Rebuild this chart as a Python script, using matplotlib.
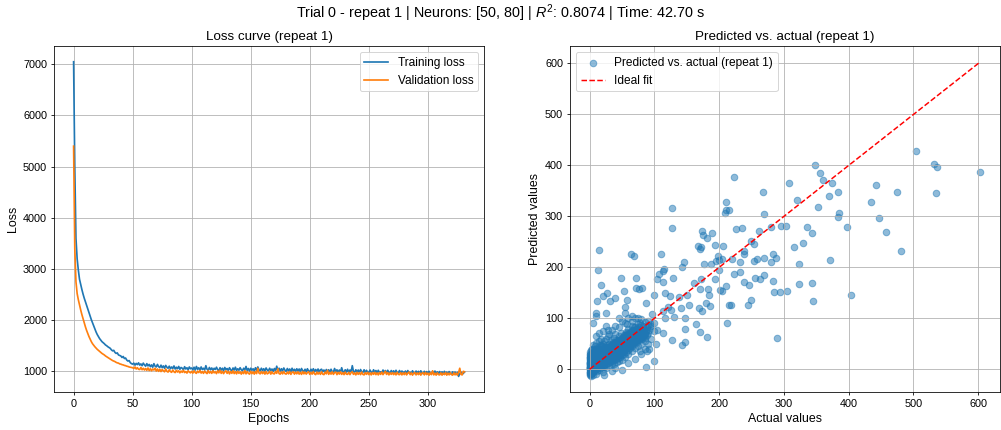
import numpy as np
import matplotlib
matplotlib.use("Agg")
import matplotlib.pyplot as plt

plt.rcParams['font.family'] = ['Liberation Sans', 'DejaVu Sans']
plt.rcParams['mathtext.fontset'] = 'custom'
plt.rcParams['mathtext.rm'] = 'Liberation Sans'
plt.rcParams['mathtext.it'] = 'Liberation Sans:italic'
plt.rcParams['xtick.labelsize'] = 11
plt.rcParams['ytick.labelsize'] = 11
plt.rcParams['axes.labelsize'] = 12.5
plt.rcParams['axes.titlesize'] = 13.5
plt.rcParams['legend.fontsize'] = 12

# loss per epoch
train_loss = [
    7050, 5000, 3600, 3200, 2980, 2800, 2700, 2600, 2510, 2430,
    2360, 2290, 2220, 2150, 2080, 2010, 1950, 1890, 1830, 1770,
    1720, 1680, 1640, 1610, 1580, 1560, 1540, 1515, 1500, 1480,
    1465, 1450, 1420, 1400, 1410, 1370, 1350, 1360, 1320, 1310,
    1300, 1270, 1290, 1250, 1260, 1220, 1200, 1210, 1170, 1150,
    1140, 1160, 1120, 1155, 1130, 1165, 1120, 1145, 1110, 1160,
    1125, 1100, 1150, 1105, 1135, 1090, 1125, 1080, 1150, 1100,
    1085, 1135, 1090, 1075, 1120, 1070, 1105, 1060, 1115, 1080,
    1060, 1100, 1050, 1085, 1055, 1105, 1045, 1080, 1050, 1095,
    1040, 1075, 1060, 1030, 1090, 1045, 1070, 1030, 1085, 1050,
    1065, 1030, 1080, 1025, 1095, 1040, 1070, 1020, 1085, 1035,
    1060, 1025, 1110, 1040, 1020, 1075, 1030, 1065, 1015, 1060,
    1035, 1080, 1030, 1015, 1070, 1025, 1060, 1010, 1075, 1035,
    1055, 1015, 1070, 1030, 1010, 1065, 1025, 1080, 1015, 1050,
    1020, 1070, 1030, 1010, 1060, 1025, 1095, 1015, 1055, 1005,
    1060, 1020, 1050, 1005, 1070, 1020, 1085, 1030, 1010, 1060,
    1015, 1050, 1005, 1065, 1025, 1010, 1060, 1015, 1045, 1000,
    1055, 1010, 1100, 1015, 1060, 1005, 1050, 1010, 1065, 1020,
    1000, 1055, 1010, 1045, 995, 1060, 1005, 1040, 1000, 1050,
    1005, 1045, 995, 1055, 1010, 1000, 1040, 990, 1050, 1005,
    995, 1040, 1000, 1050, 990, 1035, 995, 1045, 985, 1030,
    1040, 990, 1025, 975, 1035, 985, 1030, 980, 1040, 995,
    985, 1055, 990, 1030, 980, 1025, 985, 1070, 995, 980,
    1030, 985, 1040, 975, 1025, 990, 1110, 995, 980, 1030,
    985, 1025, 975, 1035, 990, 980, 1030, 970, 1020, 985,
    975, 1025, 985, 970, 1030, 980, 1015, 970, 1020, 975,
    990, 970, 1025, 975, 1015, 965, 1020, 980, 970, 1015,
    975, 1010, 965, 1020, 975, 970, 1015, 965, 1005, 985,
    970, 1005, 960, 1015, 970, 980, 960, 1010, 970, 955,
    1005, 965, 1000, 960, 1010, 965, 955, 1000, 960, 995,
    955, 1000, 965, 950, 995, 960, 1005, 955, 990, 950,
    995, 955, 990, 945, 1000, 955, 985, 945, 995, 960,
    950, 990, 945, 985, 940, 980, 900, 950, 985, 940,
    960, 985,
]
val_loss = [
    5400, 3400, 2750, 2520, 2400, 2300, 2200, 2110, 2030, 1950,
    1870, 1800, 1740, 1680, 1630, 1580, 1540, 1510, 1480, 1455,
    1430, 1410, 1390, 1370, 1350, 1335, 1320, 1300, 1285, 1270,
    1255, 1240, 1225, 1210, 1200, 1190, 1175, 1165, 1160, 1145,
    1140, 1130, 1125, 1115, 1110, 1100, 1095, 1085, 1080, 1075,
    1070, 1055, 1085, 1045, 1070, 1040, 1035, 1075, 1030, 1060,
    1025, 1055, 1020, 1065, 1015, 1050, 1010, 1045, 1025, 1060,
    1005, 1045, 1000, 1040, 995, 1035, 1010, 990, 1045, 1000,
    985, 1030, 995, 980, 1025, 990, 975, 1020, 985, 1010,
    970, 1005, 980, 1020, 975, 995, 965, 1010, 985, 970,
    1000, 965, 1010, 975, 960, 1005, 975, 1015, 965, 995,
    960, 1005, 975, 955, 1015, 965, 995, 960, 1010, 970,
    990, 955, 1010, 970, 1020, 960, 1000, 955, 990, 1010,
    960, 1000, 950, 995, 960, 1010, 955, 995, 950, 1000,
    960, 990, 945, 990, 955, 1015, 950, 995, 960, 945,
    1000, 955, 990, 945, 995, 955, 1060, 965, 950, 995,
    955, 990, 945, 995, 950, 965, 1000, 945, 990, 955,
    950, 995, 960, 1050, 955, 945, 990, 950, 995, 955,
    945, 985, 950, 995, 940, 980, 990, 945, 985, 950,
    990, 945, 980, 940, 995, 950, 985, 945, 975, 990,
    940, 980, 945, 995, 950, 935, 985, 945, 980, 940,
    990, 945, 935, 985, 950, 1020, 940, 980, 945, 990,
    940, 975, 985, 935, 980, 945, 990, 940, 975, 935,
    985, 945, 940, 980, 935, 975, 990, 940, 970, 930,
    980, 940, 975, 935, 985, 940, 930, 975, 940, 980,
    935, 970, 930, 975, 940, 980, 935, 970, 930, 975,
    940, 985, 935, 970, 1000, 940, 975, 930, 970, 940,
    975, 935, 970, 930, 980, 940, 935, 975, 930, 970,
    935, 975, 930, 965, 985, 935, 970, 925, 965, 975,
    930, 970, 935, 975, 925, 965, 970, 930, 980, 935,
    965, 925, 970, 935, 1010, 930, 965, 925, 970, 935,
    930, 970, 925, 965, 935, 975, 925, 965, 930, 970,
    935, 925, 970, 930, 965, 925, 975, 1060, 940, 930,
    1000, 990,
]

# test set: actual vs predicted, scattered points
actual = [
    504.6, 531, 536.5, 603.4, 535, 480.5, 475.3, 457.3, 447, 442.4,
    434.2, 404.3, 397.6, 384.3, 384, 384, 375, 369, 361, 356,
    348, 352, 371.4, 343.6, 336, 330, 316, 323.6, 323.6, 304.5,
    343.6, 344.7, 320, 308.6, 303, 296, 294, 285, 289, 288,
    283, 280, 283, 280, 268.5, 267, 270, 268.5, 263.4, 261,
    258.5, 256, 253.5, 248.5, 253.5, 245.4, 249.5, 244.3, 239, 237.7,
    238.7, 232.5, 232.5, 236, 226.3, 223, 223.6, 220.5, 218, 214.5,
    212.4, 210, 210, 210.4, 214.5, 209.8, 205.2, 206, 205, 200.7,
    198, 200, 200, 194, 193, 195, 189.6, 188, 186.6, 184,
    183, 181, 180, 181, 177, 173, 171.8, 169.8, 175, 166.7,
    170.8, 169, 173, 172.3, 164, 160.5, 170, 153, 151, 145,
    142.5, 140.4, 147, 148, 148, 143, 138.4, 128, 127.6, 128.6,
    126.5, 123.5, 125, 121.4, 115, 114, 109.6, 113, 115.7, 113.7,
    116, 129.6, 107.5, 104, 100, 96.7, 104.4, 113.7, 102, 99,
    87, 86.4, 80.8, 77, 72, 71, 68.4, 63.8, 58, 52.5,
    48.4, 55, 40, 32, 25.7, 18, 20, 14, 12.9, 11.8,
    10.3, 9.8, 5, 23, 26.7,
    0, 0, 0, 0, 0, 0, 0, 0, 0, 1, 1, 1, 1, 1, 1, 1, 1, 2, 2, 2, 2, 2, 2,
    3, 3, 3, 3, 3, 3, 3, 0, 0, 1, 2, 3,
    4, 4, 4, 4, 5, 5, 5, 5, 5, 6, 6, 6, 6, 7, 7, 7, 7, 8, 8, 8, 8, 8,
    9, 9, 9, 9, 10, 10, 10, 10, 4, 6, 8, 10,
    11, 11, 11, 11, 12, 12, 12, 12, 13, 13, 13, 13, 14, 14, 14, 14,
    15, 15, 15, 15, 16, 16, 16, 16, 17, 17, 17, 17, 18, 18, 18,
    19, 19, 19, 19, 20, 20, 20, 20, 12, 15, 18, 20,
    21, 21, 21, 22, 22, 22, 23, 23, 23, 24, 24, 24, 25, 25, 25,
    26, 26, 26, 27, 27, 27, 28, 28, 28, 29, 29, 29, 30, 30, 30,
    31, 31, 32, 32, 32, 33, 33, 33, 34, 34, 35, 35, 35, 22, 26, 30, 34,
    36, 36, 36, 37, 37, 38, 38, 38, 39, 39, 39, 40, 40, 40, 41, 41, 41,
    42, 42, 42, 43, 43, 44, 44, 44, 45, 45, 45, 46, 46, 47, 47, 47,
    48, 48, 48, 49, 49, 50, 50, 50, 38, 42, 46, 50,
    51, 51, 52, 52, 53, 53, 53, 54, 54, 55, 55, 56, 56, 56, 57, 57,
    58, 58, 59, 59, 60, 60, 60, 61, 61, 62, 62, 63, 63, 64, 64,
    65, 65, 65, 66, 66, 67, 67, 68, 68, 69, 69, 70, 70, 55, 60, 65, 70,
    71, 71, 72, 72, 73, 73, 74, 74, 75, 75, 76, 76, 77, 77, 78, 78,
    79, 79, 80, 80, 81, 81, 82, 82, 83, 84, 84, 85, 85, 86, 87, 88,
    89, 90, 75, 80, 85,
    45, 50, 55, 40, 35, 30, 60, 65, 70, 25, 20, 15, 10, 75, 80, 90,
    95, 100, 95, 100, 92, 60, 70, 80, 88, 50, 40, 35, 10, 5, 2, 20,
    65, 58, 45, 28, 55,
]
predicted = [
    428.4, 402, 396.5, 386.7, 345.7, 231.8, 348.3, 268.9, 296.9, 361.3,
    327.5, 146.5, 280, 306, 299, 347.6, 364.6, 340.5, 371.7, 385.4,
    400.4, 317.7, 214.2, 268.2, 280, 248.7, 240, 207, 168, 153,
    168.6, 134, 332.7, 364.6, 281, 281, 151, 152.3, 61, 218.7,
    226.6, 209.6, 173.8, 280, 305.3, 347.6, 218.7, 185.5, 177, 270.8,
    216, 179.7, 212.2, 252.6, 245.4, 166, 136.7, 126.3, 171.2, 225.3,
    231.8, 211, 190, 277.3, 274.7, 378, 187.5, 216, 127, 127,
    90.5, 162.8, 327.5, 312, 313, 306, 154.3, 241.5, 216, 155.6,
    222.7, 213.5, 195.3, 177, 243.5, 211.6, 267, 205.7, 123.7, 146.5,
    157, 258.5, 130, 62.5, 207, 270.8, 239, 235.7, 264, 242.8,
    157.5, 120.4, 114, 177, 88.5, 169, 73, 127, 146.5, 209.6,
    200.5, 121, 101, 78.8, 53.4, 46.9, 141.3, 315.8, 276.7, 178.4,
    56.6, 144.5, 116, 123, 196, 192, 225.3, 170.6, 149.7, 115,
    101, 102, 186, 177, 145, 109, 77.5, 71, 49.5, 15.6,
    5.2, 130, 160, 157.5, 160, 178.4, 223, 227, 136.7, 153,
    178.4, 123, 140.6, 134, 110.7, 164.7, 144.5, 233.7, 194.7, 134.8,
    110.7, 104.2, 91, -10.4, 149.7,
    -10, -5, 0, 3, 8, 12, 18, 25, -12, -8, 2, 6, 10, 15, 20, 28, 33, -3, 4, 9, 14, 22, 38,
    -6, 1, 7, 12, 17, 26, 31, 5, 15, -2, 0, 20,
    2, 10, 18, 30, -4, 5, 12, 22, 40, 3, 14, 25, 48, 0, 8, 16, 30, 5, 12, 20, 35, 45,
    2, 10, 24, 38, 6, 15, 28, 52, -8, -6, -2, 0,
    4, 12, 20, 32, 8, 18, 26, 42, 2, 14, 22, 36, 10, 20, 30, 55,
    6, 16, 25, 40, 12, 22, 34, 48, 8, 18, 28, 60, 14, 24, 38,
    10, 20, 32, 45, 16, 26, 36, 50, -4, -2, 2, 6,
    12, 24, 40, 18, 30, 55, 8, 20, 34, 14, 26, 44, 20, 32, 60,
    10, 24, 38, 16, 30, 48, 22, 36, 65, 12, 26, 42, 18, 32, 50,
    24, 38, 14, 28, 46, 20, 34, 58, 26, 40, 16, 30, 48, 5, 2, 8, 10,
    22, 36, 54, 28, 42, 18, 32, 62, 24, 38, 50, 30, 44, 70, 20, 36, 52,
    26, 40, 58, 32, 46, 22, 38, 56, 28, 42, 66, 34, 50, 24, 40, 58,
    30, 46, 72, 36, 52, 28, 44, 62, 10, 14, 16, 18,
    34, 50, 40, 58, 30, 46, 68, 38, 54, 44, 62, 34, 50, 74, 42, 58,
    48, 66, 38, 54, 46, 62, 80, 52, 68, 42, 58, 50, 66, 56, 74,
    46, 62, 85, 54, 70, 60, 78, 50, 66, 58, 74, 64, 82, 25, 30, 36, 42,
    56, 72, 62, 80, 54, 70, 60, 78, 66, 88, 58, 74, 64, 82, 70, 90,
    62, 78, 68, 86, 60, 74, 66, 84, 72, 64, 80, 70, 92, 62, 76, 68,
    80, 72, 45, 50, 55,
    100, 95, 110, 85, 78, 70, 100, 105, 100, 85, 75, 72, 65, 100, 98, 95,
    88, 90, 60, 75, 40, 12, 20, 30, 35, -2, 2, -4, -10, -12, -14, -6,
    95, 88, 82, 78, 90,
]

# more points inside the dense band near the origin
cluster_actual = [
    0, 0, 0, 0, 1, 1, 1, 1, 2, 2, 2, 2, 3, 3, 3, 3, 4, 4, 4, 4, 5, 5, 5, 5,
    6, 6, 7, 7, 7, 8, 8, 9, 9, 9, 10, 10, 10, 11, 11, 12, 12, 12, 13, 13,
    14, 14, 14, 15, 15, 15, 16, 16, 17, 17, 17, 18, 18, 18, 19, 19, 20, 20, 20,
    21, 21, 22, 22, 23, 23, 24, 24, 25, 25, 26, 26, 27, 27, 28, 28, 29, 29,
    30, 30, 31, 31, 32, 32, 33, 33, 34, 34, 35, 35, 36, 36, 37, 37, 38, 38,
    39, 39, 40, 40,
    41, 41, 42, 42, 43, 43, 44, 44, 45, 45, 46, 46, 47, 47, 48, 48, 49, 49,
    50, 50, 51, 51, 52, 52, 53, 53, 54, 54, 55, 55, 56, 56, 57, 57, 58, 58,
    59, 59, 60, 60,
    61, 61, 62, 62, 63, 63, 64, 64, 65, 65, 66, 66, 67, 67, 68, 68, 69, 69,
    70, 70, 72, 74, 76, 78, 80, 82, 84, 86, 88, 90, 92, 95, 85, 78, 90,
]
cluster_pred = [
    2, 10, 22, 30, -6, 4, 12, 24, -10, 6, 18, 30, -2, 10, 24, 40, -4, 6, 14, 26,
    0, 8, 18, 30,
    8, 20, 4, 12, 24, 10, 28, 6, 16, 30, 10, 20, 36, 8, 26, 12, 22, 34, 18, 28,
    14, 26, 40, 10, 20, 32, 16, 28, 12, 24, 38, 18, 30, 48, 14, 26, 20, 32, 44,
    18, 30, 24, 38, 14, 28, 20, 34, 26, 40, 18, 30, 22, 36, 28, 44, 20, 34,
    24, 40, 30, 46, 22, 36, 28, 44, 32, 50, 24, 38, 30, 44, 34, 52, 26, 40,
    32, 46, 36, 54,
    28, 44, 34, 50, 38, 56, 30, 46, 36, 52, 40, 58, 32, 48, 38, 54, 42, 60,
    36, 52, 42, 58, 46, 64, 38, 54, 44, 60, 50, 68, 42, 58, 48, 64, 52, 72,
    46, 62, 52, 70,
    44, 60, 50, 66, 56, 74, 48, 64, 54, 70, 60, 78, 52, 68, 58, 74, 64, 82,
    56, 72, 70, 68, 66, 76, 74, 72, 76, 70, 82, 86, 78, 85, 40, 35, 50,
]

r2 = 0.8074
run_time = 42.70

fig, (ax1, ax2) = plt.subplots(1, 2, figsize=(14, 6.014), dpi=71.5)
fig.subplots_adjust(left=0.054, right=0.999, bottom=0.088, top=0.893, wspace=0.2)

ax1.plot(range(len(train_loss)), train_loss, lw=1.7, label="Training loss")
ax1.plot(range(len(val_loss)), val_loss, lw=1.7, label="Validation loss")
ax1.set_title("Loss curve (repeat 1)")
ax1.set_xlabel("Epochs")
ax1.set_ylabel("Loss")
ax1.legend()
ax1.grid(True)

all_actual = actual + cluster_actual
all_pred = predicted + cluster_pred
ax2.scatter(all_actual, all_pred, s=44, alpha=0.5, label="Predicted vs. actual (repeat 1)")
lo, hi = min(all_actual), max(all_actual)
ax2.plot([lo, hi], [lo, hi], "r--", label="Ideal fit")
ax2.set_title("Predicted vs. actual (repeat 1)")
ax2.set_xlabel("Actual values")
ax2.set_ylabel("Predicted values")
ax2.legend()
ax2.grid(True)

fig.suptitle("Trial 0 - repeat 1 | Neurons: [50, 80] | $R^2$: %.4f | Time: %.2f s" % (r2, run_time),
             fontsize=14.5, y=0.995)

fig.savefig("out.png")
